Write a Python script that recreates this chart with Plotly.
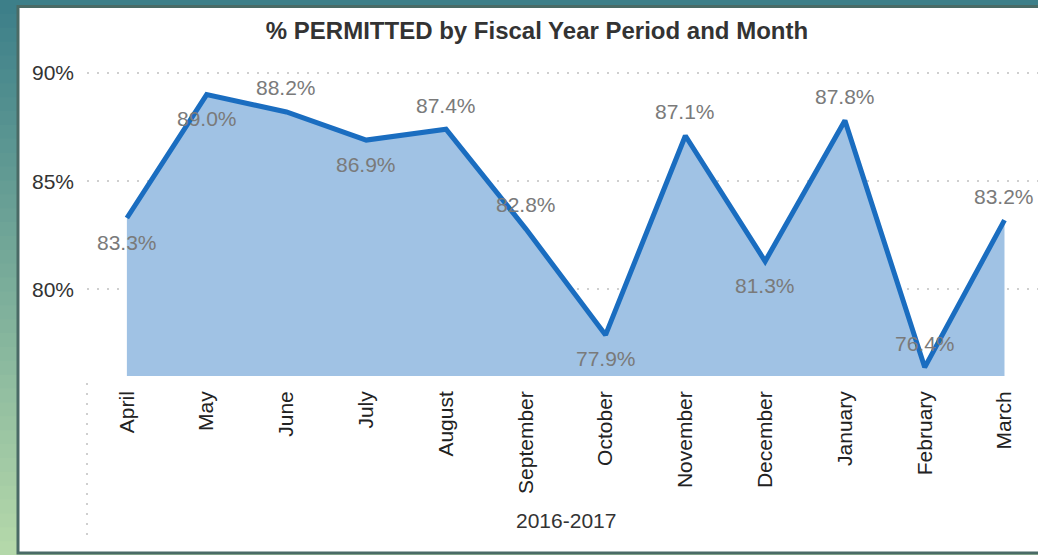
import plotly.graph_objects as go

months = ["April", "May", "June", "July", "August", "September", "October",
          "November", "December", "January", "February", "March"]
pct_permitted = [83.3, 89.0, 88.2, 86.9, 87.4, 82.8, 77.9, 87.1, 81.3, 87.8, 76.4, 83.2]
label_side = ["below", "below", "above", "below", "above", "above", "below",
              "above", "below", "above", "above", "above"]
y_ticks = [80, 85, 90]
y_tick_text = ["80%", "85%", "90%"]
period_label = "2016-2017"
title_text = "% PERMITTED by Fiscal Year Period and Month"

W, H = 1038, 555
L, R, T, B = 87, 0, 60, 179
pw, ph = W - L - R, H - T - B

def px_x(x):
    return (x - L) / pw

def px_y(y):
    return (H - B - y) / ph

FONT = "Liberation Sans, Arial, sans-serif"

fig = go.Figure()
fig.add_trace(go.Scatter(
    x=months, y=pct_permitted, mode="lines",
    line=dict(color="#1a6dc0", width=5),
    fill="tozeroy", fillcolor="#a0c2e4",
    hoverinfo="skip", showlegend=False,
))

annotations = []
for m, v, s in zip(months, pct_permitted, label_side):
    annotations.append(dict(
        x=m, y=v, xref="x", yref="y", text=f"{v:.1f}%", showarrow=False,
        yshift=24 if s == "above" else -24, yanchor="middle",
        font=dict(family=FONT, size=21, color="#7a7a7a"),
    ))
annotations.append(dict(
    x=px_x(566), y=px_y(520), xref="paper", yref="paper", text=period_label,
    showarrow=False, xanchor="center", yanchor="middle",
    font=dict(family=FONT, size=21, color="#333333"),
))

shapes = []
# background gradient bands
N = 40
c0 = (59, 126, 137)
c1 = (182, 217, 170)
for i in range(N):
    y0p = H * i / N
    y1p = H * (i + 1) / N + 1
    t = (i + 0.5) / N
    c = tuple(int(round(a + (b - a) * t)) for a, b in zip(c0, c1))
    shapes.append(dict(
        type="rect", xref="paper", yref="paper", layer="below",
        x0=px_x(-5), x1=px_x(W + 5), y0=px_y(y1p), y1=px_y(y0p),
        fillcolor=f"rgb{c}", line=dict(width=0),
    ))
# white card with border
shapes.append(dict(
    type="rect", xref="paper", yref="paper", layer="below",
    x0=px_x(18), x1=px_x(W + 20), y0=px_y(553), y1=px_y(6.5),
    fillcolor="white", line=dict(color="#4a6b66", width=3),
))
# dotted vertical line left of the month labels
shapes.append(dict(
    type="line", xref="paper", yref="paper",
    x0=0, x1=0, y0=px_y(383), y1=px_y(536),
    line=dict(color="#cfcfcf", width=2, dash="2px,8px"),
))

fig.update_layout(
    width=W, height=H,
    margin=dict(l=L, r=R, t=T, b=B),
    paper_bgcolor="white",
    plot_bgcolor="rgba(0,0,0,0)",
    title=dict(text=f"<b>{title_text}</b>", xref="container", yref="container",
               x=537 / W, y=1 - 31 / H, xanchor="center", yanchor="middle",
               font=dict(family=FONT, size=24, color="#333333")),
    xaxis=dict(
        type="category", range=[-0.5, 11.42], showgrid=False, zeroline=False,
        showline=False, ticks="", tickangle=-90, ticklabelstandoff=10,
        tickfont=dict(family=FONT, size=21, color="#222222"),
    ),
    yaxis=dict(
        range=[76, 90.6], tickmode="array", tickvals=y_ticks, ticktext=y_tick_text,
        showgrid=True, gridcolor="#cfcfcf", griddash="2px,8px", gridwidth=2,
        zeroline=False, showline=False, ticks="", ticklabelstandoff=12,
        tickfont=dict(family=FONT, size=21, color="#333333"),
    ),
    annotations=annotations,
    shapes=shapes,
)

fig.write_html("out.html", config={"displayModeBar": False},
               post_script="document.body.style.margin='0';")
